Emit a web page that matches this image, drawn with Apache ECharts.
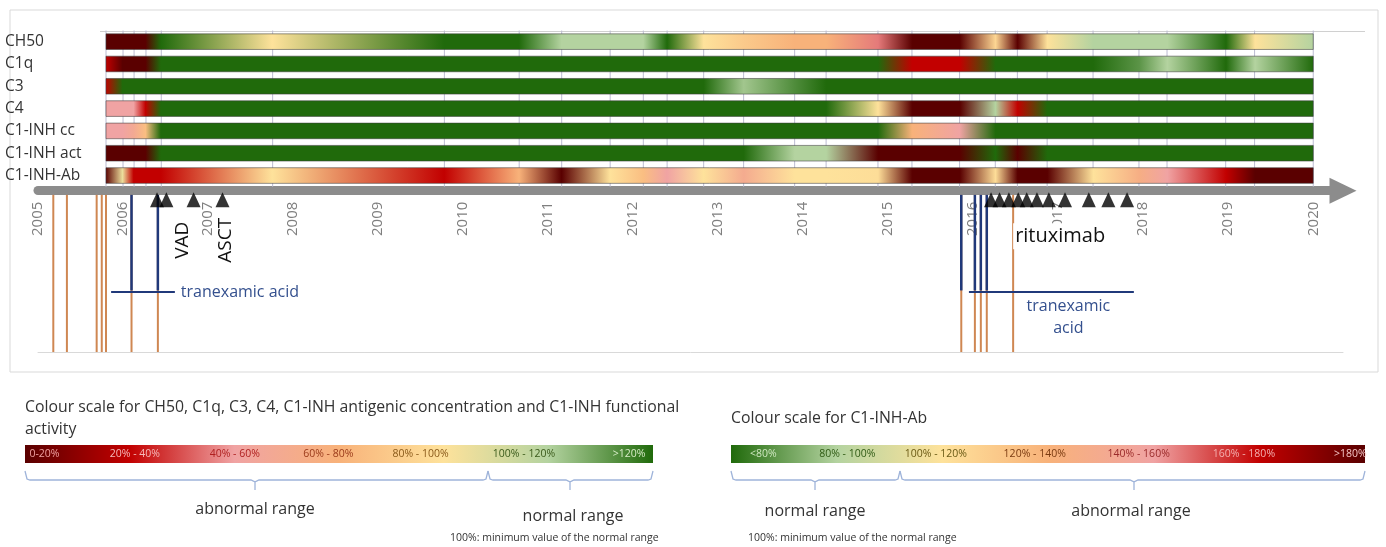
<!DOCTYPE html>
<html>
<head>
<meta charset="utf-8">
<script src="https://cdn.jsdelivr.net/npm/echarts@6/dist/echarts.min.js"></script>
<style>
html,body{margin:0;padding:0;background:#fff}
#main{width:1386px;height:547px}
</style>
</head>
<body>
<div id="main"></div>
<script>
// rows of the timeline
var rows = ['CH50', 'C1q', 'C3', 'C4', 'C1-INH cc', 'C1-INH act', 'C1-INH-Ab'];
var years = [2005, 2006, 2007, 2008, 2009, 2010, 2011, 2012, 2013, 2014, 2015, 2016, 2017, 2018, 2019, 2020];

// sampling dates (decimal years) and measured values in % of lower normal limit
var sampleDates = [2005.80, 2006.00, 2006.13, 2006.27, 2006.45, 2007.76, 2009.78, 2010.66, 2011.16, 2011.73,
  2012.12, 2012.40, 2012.83, 2013.30, 2013.90, 2014.27, 2014.88, 2015.28, 2015.84, 2016.26,
  2016.52, 2016.87, 2017.41, 2017.95, 2018.28, 2018.97, 2019.31, 2020.00];
var ch50     = [10, 10, 10, 10, 140, 90, 140, 140, 115, 115, 115, 140, 90, 80, 70, 70, 45, 10, 10, 85, 10, 90, 115, 115, 115, 140, 90, 115];
var c1q      = [30, 10, 10, 10, 140, 140, 140, 140, 140, 140, 140, 140, 140, 140, 140, 140, 140, 30, 30, 140, 140, 140, 140, 130, 115, 140, 115, 140];
var c3       = [30, 140, 140, 140, 140, 140, 140, 140, 140, 140, 140, 140, 140, 118, 132, 140, 140, 140, 140, 140, 140, 140, 140, 140, 140, 140, 140, 140];
var c4       = [50, 50, 50, 30, 140, 140, 140, 140, 140, 140, 140, 140, 140, 140, 140, 140, 90, 10, 10, 115, 30, 140, 140, 140, 140, 140, 140, 140];
var c1inhCc  = [50, 50, 58, 75, 140, 140, 140, 140, 140, 140, 140, 140, 140, 140, 140, 140, 140, 70, 50, 140, 140, 140, 140, 140, 140, 140, 140, 140];
var c1inhAct = [10, 10, 10, 10, 140, 140, 140, 140, 140, 140, 140, 140, 140, 140, 115, 115, 10, 10, 10, 140, 10, 140, 140, 140, 140, 140, 140, 140];
var c1inhAb  = [190, 105, 170, 170, 170, 110, 170, 130, 190, 110, 125, 150, 110, 140, 110, 110, 112, 190, 190, 112, 190, 190, 110, 135, 150, 170, 190, 190];

// colour scales
var compScaleValues = [10, 30, 50, 70, 90, 115, 140];
var compScaleColors = ['#5a0000', '#c20000', '#f0a3a3', '#f8b27a', '#fee29b', '#b4d3a0', '#206a0b'];
var abScaleValues = [70, 90, 110, 130, 150, 170, 190];
var abScaleColors = ['#206a0b', '#b4d3a0', '#fee29b', '#f8b27a', '#f0a3a3', '#c20000', '#5a0000'];
var compLegendLabels = ['0-20%', '20% - 40%', '40% - 60%', '60% - 80%', '80% - 100%', '100% - 120%', '>120%'];
var abLegendLabels = ['<80%', '80% - 100%', '100% - 120%', '120% - 140%', '140% - 160%', '160% - 180%', '>180%'];

// events
var attackDates = [2005.18, 2005.34, 2005.69, 2005.75, 2005.80, 2006.10, 2006.41, 2015.86, 2016.02, 2016.09, 2016.16, 2016.47];
var tranexamicMarks = [2006.10, 2006.41, 2015.86, 2016.02, 2016.09, 2016.16];
var tranexamicStart = [2005.86, 2015.95];
var tranexamicEnd = [2006.61, 2017.89];
var chemoDates = [2006.40, 2006.51, 2006.83, 2007.17];
var rituximabDates = [2016.21, 2016.31, 2016.42, 2016.53, 2016.63, 2016.75, 2016.89, 2017.08, 2017.36, 2017.59, 2017.81];
var chemoLabels = ['VAD', 'ASCT'];
var chemoLabelDates = [2006.70, 2007.21];

var rowValues = [ch50, c1q, c3, c4, c1inhCc, c1inhAct, c1inhAb];

function hexRgb(h) {
  return [parseInt(h.slice(1, 3), 16), parseInt(h.slice(3, 5), 16), parseInt(h.slice(5, 7), 16)];
}
function scaleColor(vals, cols, v) {
  if (v <= vals[0]) return cols[0];
  if (v >= vals[vals.length - 1]) return cols[cols.length - 1];
  for (var k = 0; k < vals.length - 1; k++) {
    if (v <= vals[k + 1]) {
      var t = (v - vals[k]) / (vals[k + 1] - vals[k]);
      var a = hexRgb(cols[k]), b = hexRgb(cols[k + 1]);
      return 'rgb(' + Math.round(a[0] + (b[0] - a[0]) * t) + ',' + Math.round(a[1] + (b[1] - a[1]) * t) + ',' + Math.round(a[2] + (b[2] - a[2]) * t) + ')';
    }
  }
}

var FONT = '"Open Sans", "Liberation Sans", sans-serif';
var xMin = 2005, xMax = 2020.35;

function legendBar(x, y, w, h, cols, labels, fracs, labelCols) {
  var els = [{
    type: 'rect', shape: {x: x, y: y, width: w, height: h},
    style: {fill: new echarts.graphic.LinearGradient(0, 0, 1, 0, cols.map(function (c, i) {
      return {offset: i / (cols.length - 1), color: c};
    }))}
  }];
  labels.forEach(function (t, i) {
    els.push({type: 'text', x: x + fracs[i] * w, y: y + h / 2,
      style: {text: t, fill: labelCols[i], font: '10.5px ' + FONT, align: 'left', verticalAlign: 'middle'}});
  });
  return els;
}
function brace(x0, x1, xc, y) {
  return {type: 'polyline', shape: {points: [[x0, y - 9], [x0 + 2, y - 1], [x0 + 5, y], [xc - 4, y], [xc, y + 2], [xc, y + 10], [xc, y + 2], [xc + 4, y], [x1 - 5, y], [x1 - 2, y - 1], [x1, y - 9]]},
    style: {stroke: '#9fb4da', lineWidth: 1.3, fill: null}};
}
function txt(t, x, y, size, align, color) {
  return {type: 'text', x: x, y: y, style: {text: t, fill: color || '#333', font: size + 'px ' + FONT, align: align || 'left', verticalAlign: 'middle'}};
}

var graphics = [
  {type: 'rect', shape: {x: 10, y: 10, width: 1368, height: 362}, style: {fill: 'none', stroke: '#d9d9d9', lineWidth: 1}, silent: true},
  {type: 'line', shape: {x1: 100, y1: 31.5, x2: 1365, y2: 31.5}, style: {stroke: '#d0d0d0', lineWidth: 1}, silent: true},
  txt('Colour scale for CH50, C1q, C3, C4, C1-INH antigenic concentration and C1-INH functional', 25, 407, 15.8),
  txt('activity', 25, 429, 15.8),
  txt('Colour scale for C1-INH-Ab', 731, 418, 15.8),
  brace(25, 488, 255, 480), brace(488, 653, 570, 480),
  brace(731, 900, 815, 480), brace(900, 1365, 1134, 480),
  txt('abnormal range', 255, 509, 16, 'center'),
  txt('normal range', 573, 516, 16, 'center'),
  txt('100%: minimum value of the normal range', 450, 538, 10.5),
  txt('normal range', 815, 511, 16, 'center'),
  txt('abnormal range', 1131, 511, 16, 'center'),
  txt('100%: minimum value of the normal range', 748, 538, 10.5)
].concat(
  legendBar(25, 445, 628, 18, compScaleColors, compLegendLabels,
    [0.007, 0.135, 0.294, 0.443, 0.585, 0.745, 0.936],
    ['#f0a0a0', '#f6baba', '#b02020', '#9a3a1a', '#8a5a1a', '#3a5a1a', '#d8ecc8']),
  legendBar(731, 445, 634, 18, abScaleColors, abLegendLabels,
    [0.03, 0.139, 0.274, 0.43, 0.594, 0.76, 0.951],
    ['#cfe8c0', '#2f5a14', '#6a5a14', '#7a3a10', '#9a2a2a', '#f4b0b0', '#f6c6c6'])
);

function vLine(color, width, y0, y1) {
  return function (params, api) {
    var p0 = api.coord([api.value(0), y0]);
    var p1 = api.coord([api.value(0), y1]);
    return {type: 'line', shape: {x1: p0[0], y1: p0[1], x2: p1[0], y2: p1[1]}, style: {stroke: color, lineWidth: width}};
  };
}

var myChart = echarts.init(document.getElementById('main'));
var option = {
  animation: false,
  textStyle: {fontFamily: FONT},
  graphic: graphics,
  grid: [
    {left: 38, right: 43, top: 30.5, height: 156.2},
    {left: 38, right: 43, top: 190, bottom: 195}
  ],
  xAxis: [
    {
      gridIndex: 0, type: 'value', min: xMin, max: xMax, interval: 1, position: 'bottom', offset: 4,
      axisLine: {show: true, onZero: false, symbol: ['none', 'triangle'], symbolSize: [26, 27], lineStyle: {color: '#8c8c8c', width: 9}},
      axisTick: {show: false}, splitLine: {show: false},
      axisLabel: {rotate: 90, margin: 11, color: '#7f7f7f', fontSize: 15,
        formatter: function (v) { return years.indexOf(v) >= 0 ? String(v) : ''; }}
    },
    {
      gridIndex: 1, type: 'value', min: xMin, max: xMax, position: 'bottom',
      axisLine: {show: true, onZero: false, lineStyle: {color: '#d9d9d9', width: 1}},
      axisTick: {show: false}, axisLabel: {show: false}, splitLine: {show: false}
    }
  ],
  yAxis: [
    {
      gridIndex: 0, type: 'category', data: rows, inverse: true,
      axisLine: {show: false}, axisTick: {show: false}, splitLine: {show: false},
      axisLabel: {align: 'left', margin: 33, color: '#333', fontSize: 15.5}
    },
    {gridIndex: 1, type: 'value', min: 0, max: 1, inverse: true, show: false}
  ],
  series: [
    {
      name: 'sampling dates', type: 'custom', xAxisIndex: 0, yAxisIndex: 0,
      data: sampleDates.map(function (d) { return [d, 0]; }),
      encode: {x: 0, y: 1},
      renderItem: function (params, api) {
        var band = api.size([0, 1])[1];
        var top = api.coord([api.value(0), 0]);
        var bot = api.coord([api.value(0), rows.length - 1]);
        return {type: 'line', shape: {x1: top[0], y1: top[1] - band / 2, x2: bot[0], y2: bot[1] + band / 2},
          style: {stroke: '#bcbcd2', lineWidth: 1}};
      }
    },
    {
      name: 'levels', type: 'custom', xAxisIndex: 0, yAxisIndex: 0,
      data: rows.map(function (r, i) { return [sampleDates[0], i, sampleDates[sampleDates.length - 1]]; }),
      encode: {x: [0, 2], y: 1},
      renderItem: function (params, api) {
        var i = params.dataIndex;
        var start = api.value(0), end = api.value(2);
        var p0 = api.coord([start, i]), p1 = api.coord([end, i]);
        var h = api.size([0, 1])[1] * 0.7;
        var isAb = rows[i] === 'C1-INH-Ab';
        var stops = sampleDates.map(function (d, k) {
          return {offset: (d - start) / (end - start),
            color: isAb ? scaleColor(abScaleValues, abScaleColors, rowValues[i][k])
                        : scaleColor(compScaleValues, compScaleColors, rowValues[i][k])};
        });
        return {type: 'rect', shape: {x: p0[0], y: p0[1] - h / 2, width: p1[0] - p0[0], height: h},
          style: {fill: new echarts.graphic.LinearGradient(0, 0, 1, 0, stops), stroke: 'rgba(60,60,60,0.55)', lineWidth: 1}};
      }
    },
    {
      name: 'attacks', type: 'custom', xAxisIndex: 1, yAxisIndex: 1,
      data: attackDates.map(function (d) { return [d]; }), encode: {x: 0},
      renderItem: vLine('#cf8752', 2, 0.03, 1)
    },
    {
      name: 'tranexamic acid marks', type: 'custom', xAxisIndex: 1, yAxisIndex: 1,
      data: tranexamicMarks.map(function (d) { return [d]; }), encode: {x: 0},
      renderItem: vLine('#20397a', 2.5, 0.03, 0.62)
    },
    {
      name: 'tranexamic acid', type: 'custom', xAxisIndex: 1, yAxisIndex: 1,
      data: tranexamicStart.map(function (d, i) { return [d, tranexamicEnd[i]]; }), encode: {x: [0, 1]},
      renderItem: function (params, api) {
        var p0 = api.coord([api.value(0), 0.63]), p1 = api.coord([api.value(1), 0.63]);
        return {type: 'line', shape: {x1: p0[0], y1: p0[1], x2: p1[0], y2: p1[1]}, style: {stroke: '#20397a', lineWidth: 2}};
      }
    },
    {
      name: 'tranexamic labels', type: 'custom', xAxisIndex: 1, yAxisIndex: 1,
      data: [[2006.68, 0.63], [2017.12, 0.72], [2017.12, 0.855]], encode: {x: 0, y: 1},
      renderItem: function (params, api) {
        var p = api.coord([api.value(0), api.value(1)]);
        var t = ['tranexamic acid', 'tranexamic', 'acid'][params.dataIndex];
        return {type: 'text', x: p[0], y: p[1],
          style: {text: t, fill: '#34508e', font: '16px ' + FONT, align: params.dataIndex === 0 ? 'left' : 'center', verticalAlign: 'middle'}};
      }
    },
    {
      name: 'rituximab label', type: 'custom', xAxisIndex: 1, yAxisIndex: 1,
      data: [[2016.47, 0.285]], encode: {x: 0, y: 1},
      renderItem: function (params, api) {
        var p = api.coord([api.value(0), api.value(1)]);
        return {type: 'text', x: p[0], y: p[1],
          style: {text: 'rituximab', fill: '#111', font: '20px ' + FONT, align: 'left', verticalAlign: 'middle', backgroundColor: '#fff', padding: [3, 2]}};
      }
    },
    {
      name: 'chemo labels', type: 'custom', xAxisIndex: 1, yAxisIndex: 1,
      data: chemoLabelDates.map(function (d) { return [d, 0.31]; }), encode: {x: 0, y: 1},
      renderItem: function (params, api) {
        var p = api.coord([api.value(0), api.value(1)]);
        return {type: 'text', x: p[0], y: p[1], rotation: Math.PI / 2,
          style: {text: chemoLabels[params.dataIndex], fill: '#111', font: '19px ' + FONT, align: 'center', verticalAlign: 'middle'}};
      }
    },
    {
      name: 'chemotherapy', type: 'scatter', xAxisIndex: 1, yAxisIndex: 1,
      symbol: 'triangle', symbolSize: [14, 15], itemStyle: {color: '#000'},
      data: chemoDates.map(function (d) { return [d, 0.06]; })
    },
    {
      name: 'rituximab', type: 'scatter', xAxisIndex: 1, yAxisIndex: 1,
      symbol: 'triangle', symbolSize: [14, 15], itemStyle: {color: '#000'},
      data: rituximabDates.map(function (d) { return [d, 0.06]; })
    }
  ]
};
myChart.setOption(option);
</script>
</body>
</html>
